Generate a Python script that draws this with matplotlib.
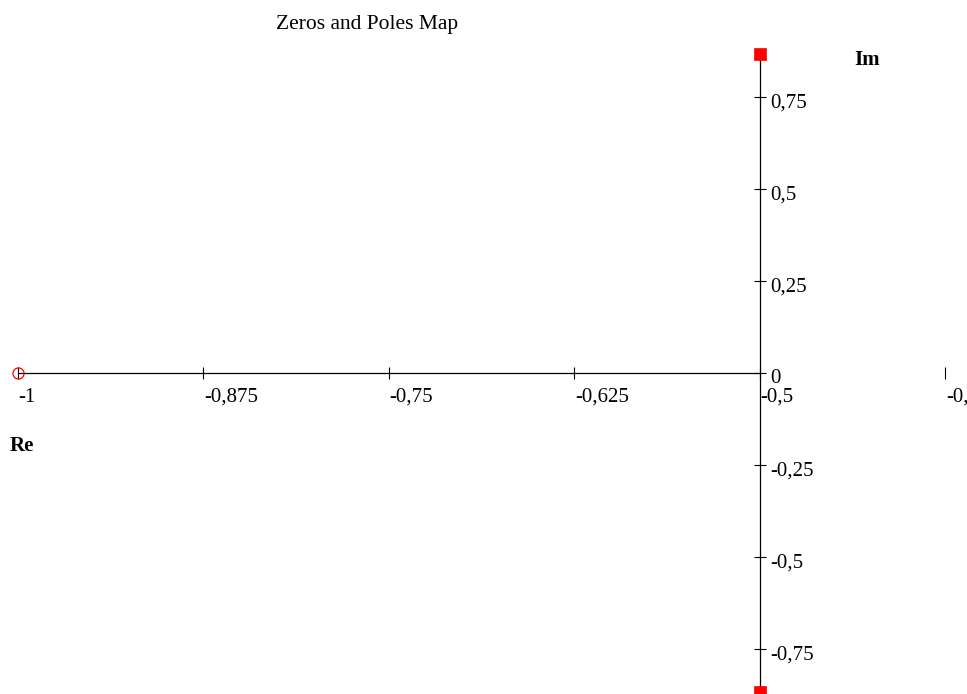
import matplotlib
matplotlib.use("Agg")
import matplotlib.pyplot as plt

# System data: one zero, a complex-conjugate pole pair
zeros_re = [-1.0]
zeros_im = [0.0]
poles_re = [-0.5, -0.5]
poles_im = [0.866, -0.866]

# Axis ticks and their labels (decimal comma)
x_ticks = [-1.0, -0.875, -0.75, -0.625, -0.5, -0.375]
x_tick_labels = ["-1", "-0,875", "-0,75", "-0,625", "-0,5", "-0,375"]
y_ticks = [0.75, 0.5, 0.25, 0.0, -0.25, -0.5, -0.75]
y_tick_labels = ["0,75", "0,5", "0,25", "0", "-0,25", "-0,5", "-0,75"]

plt.rcParams["font.family"] = ["Liberation Serif", "DejaVu Serif"]

W, H, DPI = 967, 694, 100
fig = plt.figure(figsize=(W / DPI, H / DPI), dpi=DPI)
ax = fig.add_axes([0, 0, 1, 1])
ax.set_xlim(-1.0121, -0.3605)
ax.set_ylim(-0.872, 1.0136)

# Axes crossing at (-0.5, 0)
for side in ("top", "right"):
    ax.spines[side].set_visible(False)
ax.spines["bottom"].set_position(("data", 0.0))
ax.spines["bottom"].set_bounds(-1.0, -0.5)
ax.spines["left"].set_position(("data", -0.5))
ax.spines["left"].set_bounds(-0.9, 0.866)
for side in ("bottom", "left"):
    ax.spines[side].set_linewidth(0.9)
    ax.spines[side].set_zorder(1)

ax.set_xticks(x_ticks)
ax.set_yticks(y_ticks)
ax.tick_params(axis="both", direction="inout", length=9, width=0.8,
               labelbottom=False, labelleft=False)

for x, lab in zip(x_ticks, x_tick_labels):
    ax.annotate(lab, xy=(x, 0.0), xytext=(0.5, -10.5), textcoords="offset points",
                ha="left", va="top", fontsize=15, annotation_clip=False)
for y, lab in zip(y_ticks, y_tick_labels):
    ax.annotate(lab, xy=(-0.5, y), xytext=(7.5, -4.2), textcoords="offset points",
                ha="left", va="center", fontsize=15, annotation_clip=False)

# Zeros (circles) and poles (squares)
ax.plot(zeros_re, zeros_im, linestyle="none", marker="o", markersize=8,
        markerfacecolor="none", markeredgecolor="#ff0000", markeredgewidth=0.9,
        zorder=3, clip_on=False)
ax.plot(poles_re, poles_im, linestyle="none", marker="s", markersize=8.2,
        markerfacecolor="#ff0000", markeredgecolor="#ff0000", markeredgewidth=0.5,
        zorder=3, clip_on=False)

fig.text(276 / W, 1 - 29 / H, "Zeros and Poles Map", fontsize=15.5,
         ha="left", va="baseline")
fig.text(854 / W, 1 - 65 / H, "Im", fontsize=15, fontweight="bold",
         ha="left", va="baseline")
fig.text(10 / W, 1 - 451 / H, "Re", fontsize=15, fontweight="bold",
         ha="left", va="baseline")

fig.savefig("out.png", dpi=DPI)
